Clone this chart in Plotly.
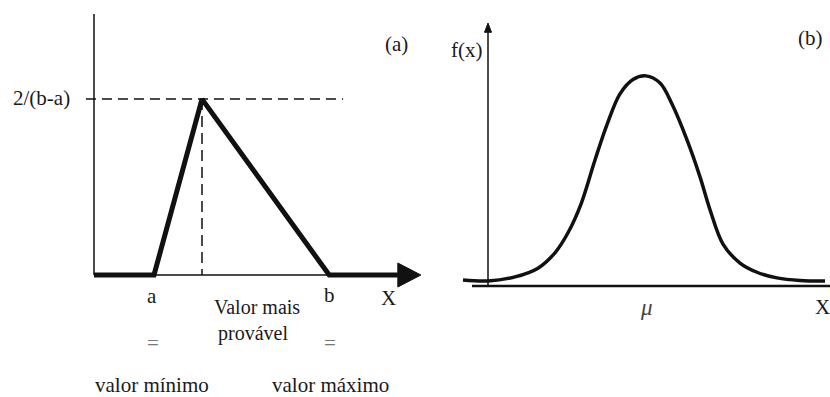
import plotly.graph_objects as go

# ---------------- data ----------------
# Panel (a): triangular distribution (a = min, c = most likely, b = max)
tri_tick_labels = ["a", "b"]
tri_tick_vals = [1.25, 4.9]
tri_mode = 2.25
tri_peak = 0.548          # 2/(b-a)
tri_x = [0.0, 1.25, 2.25, 4.9, 6.33]
tri_y = [0.0, 0.0, 0.548, 0.0, 0.0]

# Panel (b): bell-shaped density
bell_x = [-3.66, -3.16, -2.62, -2.16, -1.82, -1.56, -1.30, -1.02,
          -0.78, -0.52, -0.26, 0.0, 0.28, 0.52, 0.82,
          1.08, 1.28, 1.54, 1.88, 2.22, 2.62, 3.08, 3.58]
bell_y = [0.002, 0.0, 0.008, 0.025, 0.055, 0.094, 0.150, 0.236,
          0.305, 0.365, 0.393, 0.400, 0.386, 0.345, 0.275,
          0.203, 0.139, 0.072, 0.035, 0.017, 0.006, 0.001, 0.0]

W, H = 830, 397
BLACK = "#111111"
FONT = "Liberation Serif, Times New Roman, serif"

fig = go.Figure()

# ---------- panel (a) ----------
fig.add_trace(go.Scatter(x=[0, 0], y=[0, 0.813], mode="lines",
                         line=dict(color=BLACK, width=1.5), xaxis="x", yaxis="y"))
fig.add_trace(go.Scatter(x=[0, 6.33], y=[0, 0], mode="lines",
                         line=dict(color=BLACK, width=1.5), xaxis="x", yaxis="y"))
fig.add_trace(go.Scatter(x=[-0.167, 5.19], y=[tri_peak, tri_peak], mode="lines",
                         line=dict(color=BLACK, width=1.5, dash="10px,6px"),
                         xaxis="x", yaxis="y"))
fig.add_trace(go.Scatter(x=[tri_mode, tri_mode], y=[tri_peak, 0], mode="lines",
                         line=dict(color=BLACK, width=1.5, dash="11px,6px"),
                         xaxis="x", yaxis="y"))
fig.add_trace(go.Scatter(x=tri_x, y=tri_y, mode="lines",
                         line=dict(color=BLACK, width=5), xaxis="x", yaxis="y"))
fig.add_trace(go.Scatter(x=[6.33, 6.33, 6.81, 6.33], y=[0.0374, -0.0374, 0, 0.0374],
                         mode="lines", fill="toself", fillcolor=BLACK,
                         line=dict(color=BLACK, width=1), xaxis="x", yaxis="y"))

# ---------- panel (b) ----------
fig.add_trace(go.Scatter(x=[-3.48, 3.68], y=[-0.0098, -0.0098], mode="lines",
                         line=dict(color=BLACK, width=2.6), xaxis="x2", yaxis="y2"))
fig.add_trace(go.Scatter(x=[-3.16, -3.16], y=[-0.0098, 0.485], mode="lines",
                         line=dict(color=BLACK, width=1.5), xaxis="x2", yaxis="y2"))
fig.add_trace(go.Scatter(x=[-3.23, -3.09, -3.16, -3.23], y=[0.485, 0.485, 0.503, 0.485],
                         mode="lines", fill="toself", fillcolor=BLACK,
                         line=dict(color=BLACK, width=1), xaxis="x2", yaxis="y2"))
fig.add_trace(go.Scatter(x=bell_x, y=bell_y, mode="lines",
                         line=dict(color=BLACK, width=3.5, shape="spline", smoothing=1.0),
                         xaxis="x2", yaxis="y2"))


def px(x, y):
    return x / W, 1 - y / H


def label(text, x, y, size=21, color="#1a1a1a", italic=False):
    px_x, px_y = px(x, y)
    fig.add_annotation(x=px_x, y=px_y, xref="paper", yref="paper", text=text,
                       showarrow=False, xanchor="center", yanchor="middle",
                       borderpad=0,
                       font=dict(family=FONT, size=size, color=color,
                                 style="italic" if italic else "normal"))


label("2/(b-a)", 41, 98)
label("(a)", 396, 44)
label(tri_tick_labels[0], 152, 296)
label(tri_tick_labels[1], 329, 295)
label("X", 388, 298)
label("Valor mais", 257, 307, size=20)
label("provável", 253, 333, size=20)
label("=", 153, 343, color="#777777")
label("=", 330, 343, color="#777777")
label("valor mínimo", 152, 385)
label("valor máximo", 330, 385)

label("f(x)", 466, 50)
label("(b)", 810, 38)
label("μ", 646, 307, size=23, italic=True, color="#444444")
label("X", 822, 307)

ax_common = dict(visible=False, fixedrange=True)
fig.update_layout(
    width=W, height=H,
    margin=dict(l=0, r=0, t=0, b=0),
    paper_bgcolor="white", plot_bgcolor="white",
    showlegend=False,
    xaxis=dict(domain=[0, 0.52], range=[-1.9583, 7.0333], **ax_common),
    yaxis=dict(domain=[0, 1], range=[-0.380, 0.8567], **ax_common),
    xaxis2=dict(domain=[0.52, 1], range=[-4.288, 3.68], anchor="y2", **ax_common),
    yaxis2=dict(domain=[0, 1], range=[-0.2263, 0.548], anchor="x2", **ax_common),
)

fig.write_html("out.html")
